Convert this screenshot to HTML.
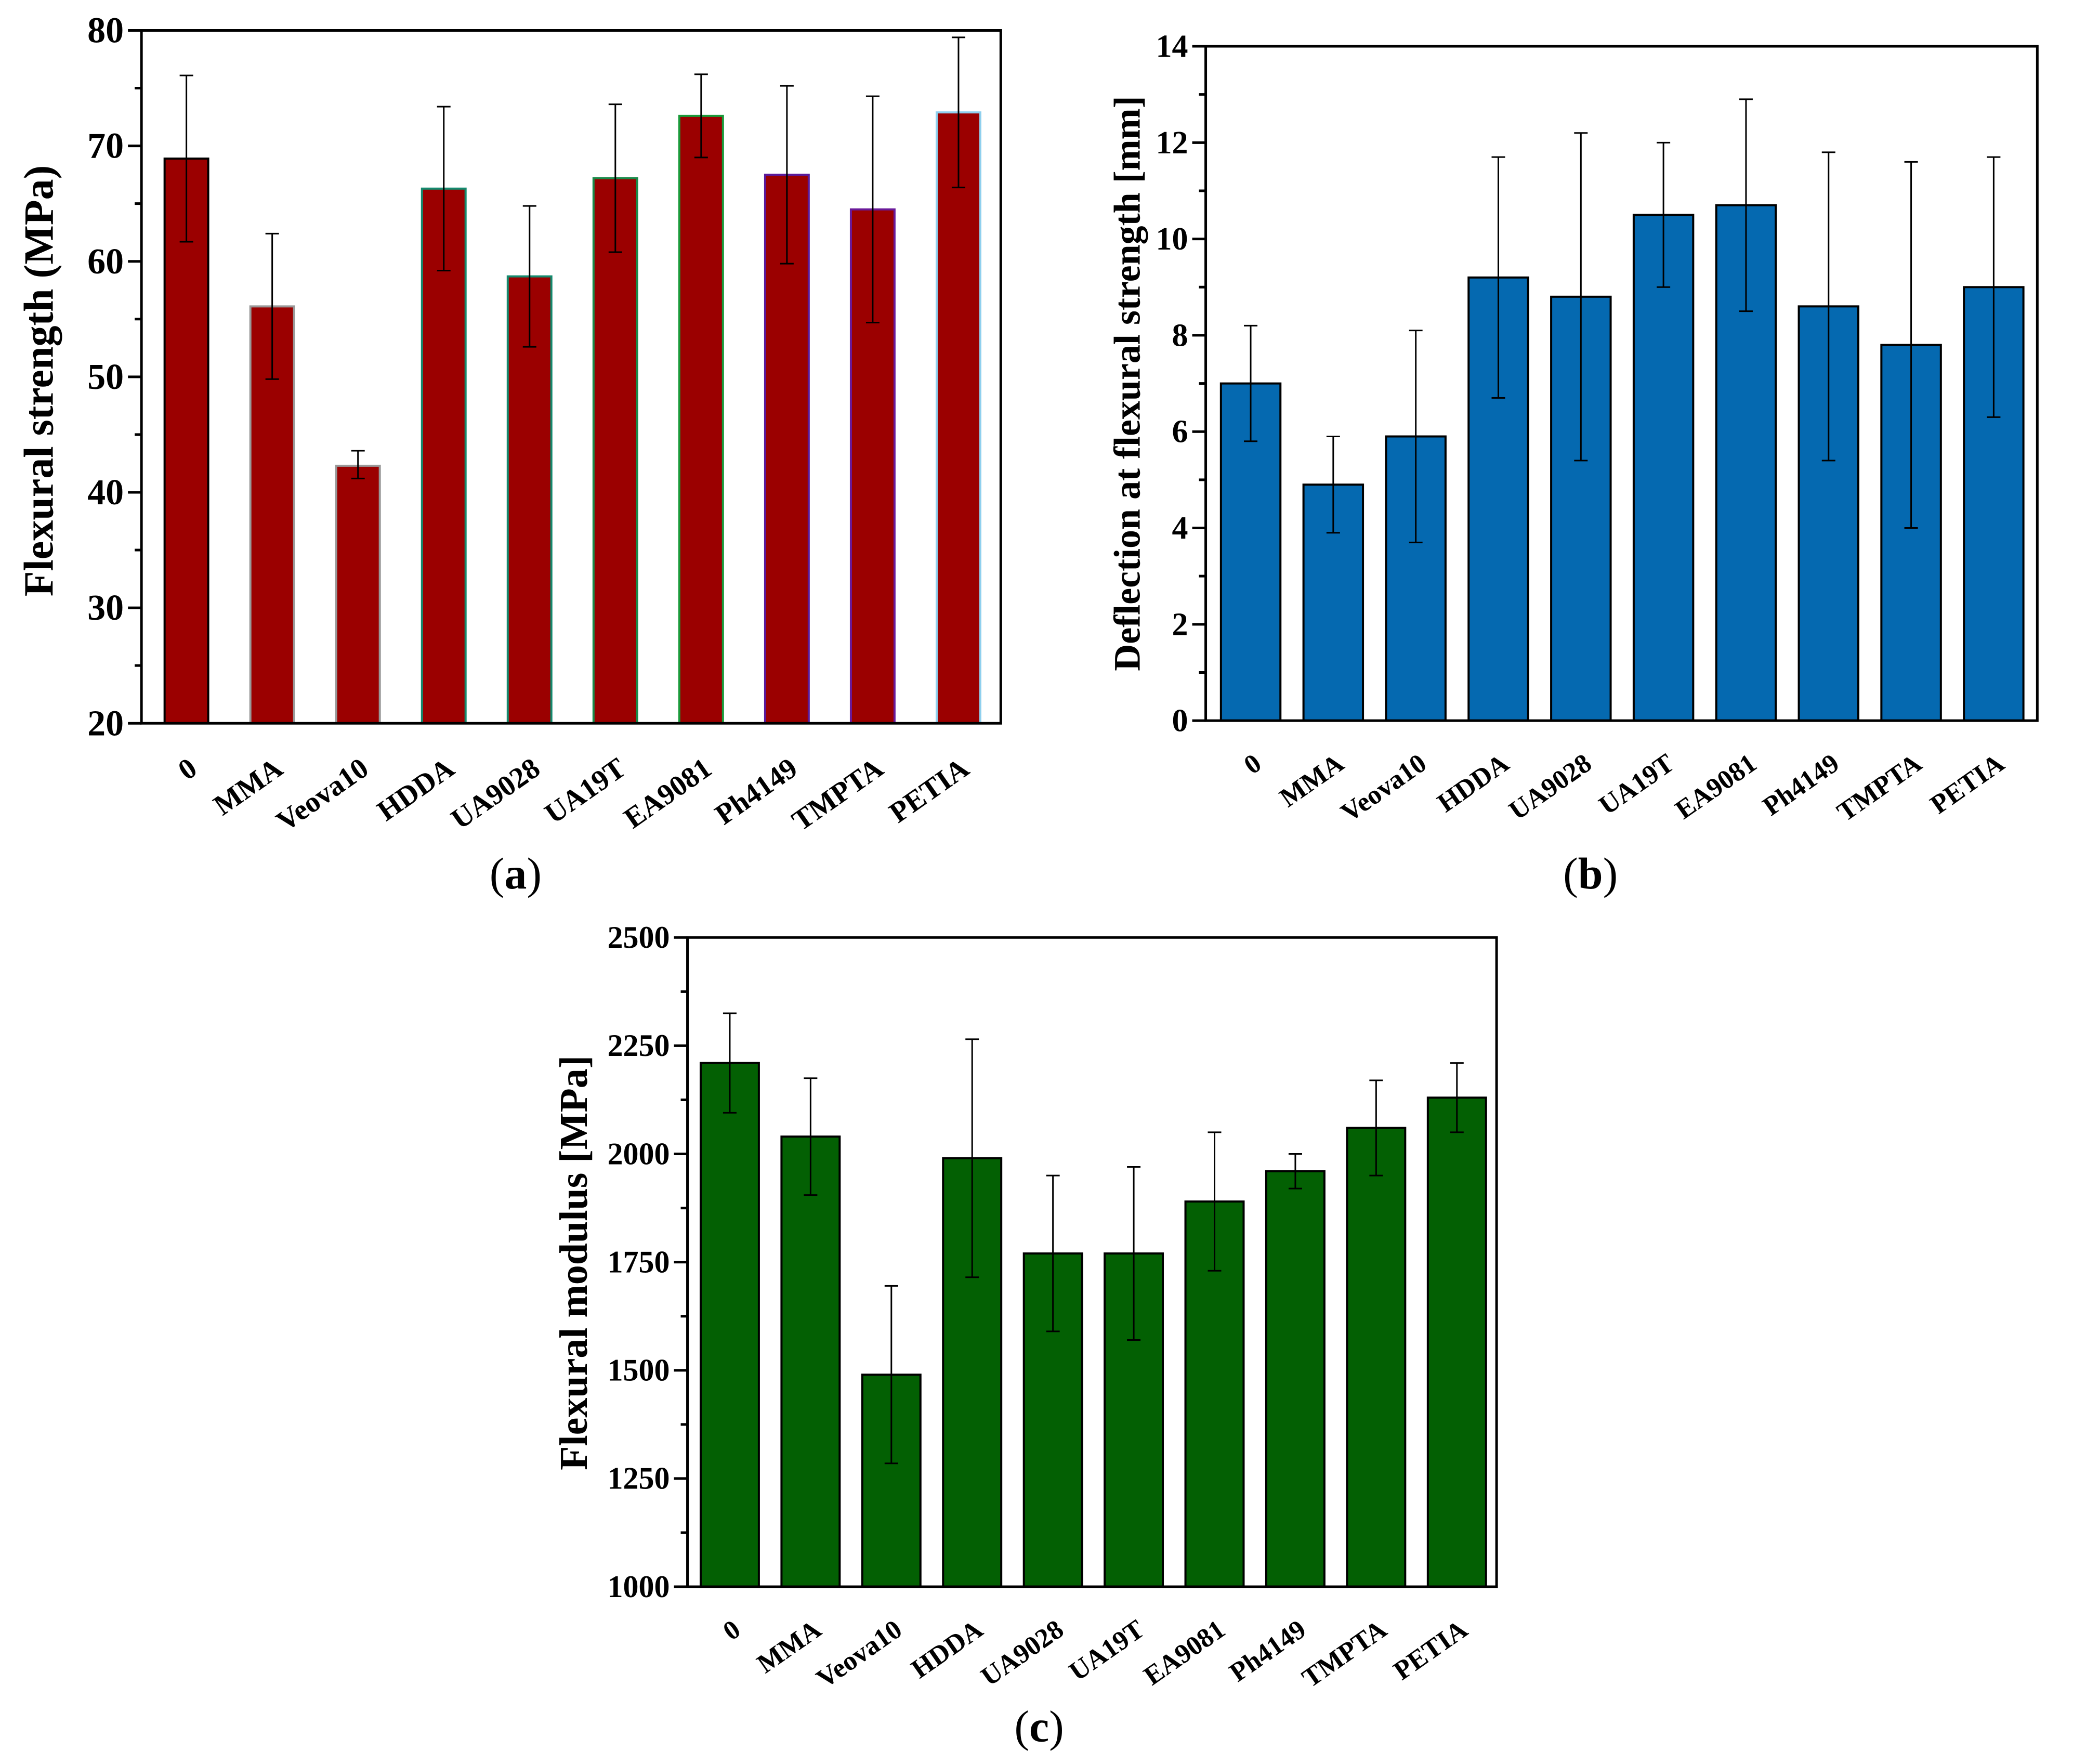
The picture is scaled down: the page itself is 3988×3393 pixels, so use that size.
<!DOCTYPE html>
<html><head><meta charset="utf-8">
<style>
html,body{margin:0;padding:0;background:#fff;}
svg{display:block;}
text{font-family:"Liberation Serif",serif;font-weight:bold;fill:#000;}
</style></head>
<body>
<svg id="fig" width="3988" height="3393" viewBox="0 0 3988 3393" xmlns="http://www.w3.org/2000/svg"></svg>
<script>
const categories = ["0","MMA","Veova10","HDDA","UA9028","UA19T","EA9081","Ph4149","TMPTA","PETIA"];
const strengthValues = [68.9,56.1,42.3,66.3,58.7,67.2,72.6,67.5,64.5,72.9];
const strengthHigh = [76.1,62.4,43.6,73.4,64.8,73.6,76.2,75.2,74.3,79.4];
const strengthLow = [61.7,49.8,41.2,59.2,52.6,60.8,69.0,59.8,54.7,66.4];
const strengthTicks = [20,30,40,50,60,70,80];
const deflectionValues = [7.0,4.9,5.9,9.2,8.8,10.5,10.7,8.6,7.8,9.0];
const deflectionHigh = [8.2,5.9,8.1,11.7,12.2,12.0,12.9,11.8,11.6,11.7];
const deflectionLow = [5.8,3.9,3.7,6.7,5.4,9.0,8.5,5.4,4.0,6.3];
const deflectionTicks = [0,2,4,6,8,10,12,14];
const modulusValues = [2210,2040,1490,1990,1770,1770,1890,1960,2060,2130];
const modulusHigh = [2325,2175,1695,2265,1950,1970,2050,2000,2170,2210];
const modulusLow = [2095,1905,1285,1715,1590,1570,1730,1920,1950,2050];
const modulusTicks = [1000,1250,1500,1750,2000,2250,2500];
const strengthEdges = ["#000","#999","#999","#148a6e","#148a6e","#1a8a4a","#1a9a3a","#5a1a9a","#6a1a9a","#8fd0ee"];

const K = 3988/1568;
const NS = "http://www.w3.org/2000/svg";
const svg = document.getElementById('fig');
function el(tag, attrs, parent){
  const e = document.createElementNS(NS, tag);
  for (const a in attrs) e.setAttribute(a, attrs[a]);
  (parent||svg).appendChild(e);
  return e;
}
function chart(cfg){
  const g = el('g', {});
  
  
  const L=cfg.box[0]*K, R=cfg.box[1]*K, T=cfg.box[2]*K, B=cfg.box[3]*K;
  const ymin=cfg.ticks[0], ymax=cfg.ticks[cfg.ticks.length-1];
  const yS = v => B - (v-ymin)/(ymax-ymin)*(B-T);
  const x0=cfg.first*K, x1=cfg.last*K, step=(x1-x0)/(categories.length-1);
  const xS = i => x0 + i*step;
  const bw = cfg.bw*K;
  cfg.values.forEach((v,i)=>{
    const r = el('rect', {x:xS(i)-bw/2, y:yS(v), width:bw, height:B-yS(v), fill:cfg.fill, stroke:cfg.edges?cfg.edges[i]:'#000', 'stroke-width':4}, g);
    
    
    const e = el('path', {d:`M${xS(i)},${yS(cfg.hi[i])}V${yS(cfg.lo[i])}M${xS(i)-13},${yS(cfg.hi[i])}h26M${xS(i)-13},${yS(cfg.lo[i])}h26`, stroke:'#000','stroke-width':3,fill:'none'}, g);
    
    
    const tx = xS(i)+24, ty = B+cfg.xlDy;
    const t = el('text', {x:tx, y:ty, 'font-size':cfg.xlSize, 'text-anchor':'end', transform:`rotate(-35 ${tx} ${ty})`}, g);
    t.textContent = categories[i];
    
    
  });
  const f = el('rect', {x:L, y:T, width:R-L, height:B-T, fill:'none', stroke:'#000', 'stroke-width':5}, g);
  
  
  const ticksPath=[];
  for (let i=0;i<cfg.ticks.length;i++){
    const v=cfg.ticks[i];
    ticksPath.push(`M${L-26},${yS(v)}H${L}`);
    if (i<cfg.ticks.length-1){ const m=(v+cfg.ticks[i+1])/2; ticksPath.push(`M${L-13},${yS(m)}H${L}`); }
    const t = el('text', {x:L-34, y:yS(v)+cfg.tlSize*0.33, 'font-size':cfg.tlSize, 'text-anchor':'end'}, g);
    t.textContent = v;
    
    
  }
  const tp = el('path', {d:ticksPath.join(''), stroke:'#000','stroke-width':5}, g);
  
  
  const yc = cfg.titleY*K;
  const yt = el('text', {x:cfg.titleX*K, y:yc, 'font-size':cfg.titleSize, 'text-anchor':'middle', transform:`rotate(-90 ${cfg.titleX*K} ${yc})`}, g);
  yt.textContent = cfg.title;
  
  
  const pl = el('text', {x:cfg.panel[0]*K, y:cfg.panel[1]*K, 'font-size':86, 'text-anchor':'middle', style:'font-weight:normal'}, g);
  pl.innerHTML = '(<tspan font-weight="bold">'+cfg.letter+'</tspan>)';
  
  
}
chart({name:'chart-flexural-strength', box:[107,757,23,547], ticks:strengthTicks, values:strengthValues, hi:strengthHigh, lo:strengthLow, first:141, last:725, bw:33, fill:'#9b0000', edges:strengthEdges, title:'Flexural strength (MPa)', titleX:40, titleY:288, titleSize:80, tlSize:70, xlSize:56, xlDy:95, panel:[390,672], letter:'a'});
chart({name:'chart-deflection', box:[912,1541,35,545], ticks:deflectionTicks, values:deflectionValues, hi:deflectionHigh, lo:deflectionLow, first:946, last:1508, bw:45, fill:'#0569b0', title:'Deflection at flexural strength [mm]', titleX:862, titleY:290, titleSize:72, tlSize:62, xlSize:52, xlDy:90, panel:[1203,672], letter:'b'});
chart({name:'chart-flexural-modulus', box:[520,1132,709,1200], ticks:modulusTicks, values:modulusValues, hi:modulusHigh, lo:modulusLow, first:552, last:1102, bw:44, fill:'#036003', title:'Flexural modulus [MPa]', titleX:444, titleY:955, titleSize:76, tlSize:60, xlSize:52, xlDy:90, panel:[786,1317], letter:'c'});
</script>
</body></html>
